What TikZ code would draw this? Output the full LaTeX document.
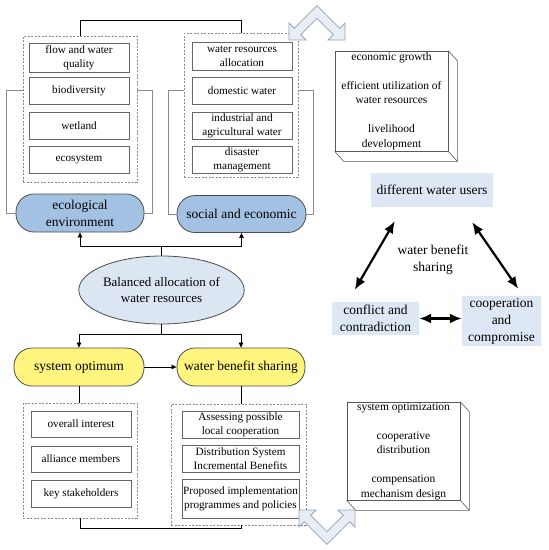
\documentclass[tikz,border=0pt]{standalone}
\usepackage{fontspec}
\setmainfont{Liberation Serif}
\usetikzlibrary{positioning, calc, arrows.meta, shapes.geometric}
\definecolor{PillBlue}{HTML}{A3C2E3}
\definecolor{PillYellow}{HTML}{FFF47D}
\definecolor{PaleBlue}{HTML}{DCE6F2}
\definecolor{UserBlue}{HTML}{DEE8F4}
\definecolor{LineGray}{HTML}{8C8C8C}
\definecolor{ChevFill}{HTML}{E6EDF5}
\definecolor{ChevEdge}{HTML}{9AA5B1}
\tikzset{
    itembox/.style={rectangle, draw=black!60, line width=0.7pt, align=center, inner sep=0.5pt, font=\fontsize{11.2}{14}\selectfont},
    groupbox/.style={rectangle, draw=black!45, dash pattern=on 2pt off 1.5pt, line width=0.6pt, inner sep=0pt},
    pill/.style={rectangle, rounded corners=18pt, draw=black!70, line width=0.8pt, align=center, inner sep=0pt, font=\fontsize{13.5}{17}\selectfont},
    userbox/.style={rectangle, fill=UserBlue, align=center, inner sep=0pt, font=\fontsize{13.5}{17}\selectfont},
    facebox/.style={rectangle, draw=black!65, line width=0.6pt, align=center, inner sep=0pt, font=\fontsize{11.5}{14.5}\selectfont},
    link/.style={black, line width=0.9pt},
    arrow/.style={-{Triangle[length=5pt,width=4.5pt]}, black, line width=0.7pt},
    bracket/.style={LineGray, line width=0.8pt},
    biarrow/.style={{Latex[length=12pt,width=10pt]}-{Latex[length=12pt,width=10pt]}, line width=2.2pt},
    chevron/.style={fill=ChevFill, draw=ChevEdge, line width=0.8pt, line join=miter},
}

\begin{document}
\begin{tikzpicture}[x=1pt, y=-1pt]
    \useasboundingbox (0,0) rectangle (549,550);

    % Gruppi in alto
    \node[groupbox, minimum width=114pt, minimum height=146pt] (ecoGrp) at (80,109) {};
    \node[groupbox, minimum width=114pt, minimum height=144pt] (socGrp) at (241,105) {};

    \node[itembox, minimum width=100pt, minimum height=29pt] (flow) at (79,57.5) {flow and water\\quality};
    \node[itembox, minimum width=100pt, minimum height=27pt] (bio) at (79,90.5) {biodiversity};
    \node[itembox, minimum width=100pt, minimum height=27pt] (wet) at (79,125.5) {wetland};
    \node[itembox, minimum width=100pt, minimum height=27pt] (eco) at (79,159.5) {ecosystem};

    \node[itembox, minimum width=100pt, minimum height=28pt] (alloc) at (242,56) {water resources\\allocation};
    \node[itembox, minimum width=100pt, minimum height=27pt] (dom) at (242,90.5) {domestic water};
    \node[itembox, minimum width=100pt, minimum height=27pt] (ind) at (242,125.5) {industrial and\\agricultural water};
    \node[itembox, minimum width=100pt, minimum height=27pt] (dis) at (242,159.5) {disaster\\management};

    % Pillole blu
    \node[pill, fill=PillBlue, minimum width=128pt, minimum height=38pt] (ecoEnv) at (80,213) {ecological\\environment};
    \node[pill, fill=PillBlue, minimum width=129pt, minimum height=37pt] (socEco) at (241.5,214) {social and economic};

    % Parentesi grigie
    \draw[bracket] (ecoGrp.west |- bio.center) -- ++(-16,0) |- (ecoEnv.west);
    \draw[bracket] (ecoGrp.east |- bio.center) -- ++(15,0) |- (ecoEnv.east);
    \draw[bracket] (socGrp.west |- dom.center) -- ++(-15,0) |- (socEco.west);
    \draw[bracket] (socGrp.east |- dom.center) -- ++(15,0) |- (socEco.east);

    \draw[link] (ecoGrp.north) -- ++(0,-15) -| (socGrp.north);

    % Nodo centrale
    \node[ellipse, draw=black!70, line width=0.8pt, fill=PaleBlue, minimum width=165pt, minimum height=68pt, align=center, inner sep=0pt, font=\fontsize{13}{16.5}\selectfont] (bal) at (161.5,290) {Balanced allocation of\\water resources};

    \coordinate (upJ) at (161.5,246);
    \coordinate (dnJ) at (161.5,334);
    \draw[link] (bal.north) -- (upJ);
    \draw[arrow] (upJ) -| (ecoEnv.south);
    \draw[arrow] (upJ) -| (socEco.south);

    % Pillole gialle
    \node[pill, fill=PillYellow, minimum width=130pt, minimum height=38pt] (opt) at (79,367) {system optimum};
    \node[pill, fill=PillYellow, minimum width=128pt, minimum height=38pt] (share) at (241,367) {water benefit sharing};

    \draw[link] (bal.south) -- (dnJ);
    \draw[arrow] (dnJ) -| (opt.north);
    \draw[arrow] (dnJ) -| (share.north);
    \draw[arrow] (opt) -- (share);

    % Gruppi in basso
    \node[groupbox, minimum width=114pt, minimum height=115pt] (optGrp) at (80,460.5) {};
    \node[groupbox, minimum width=135pt, minimum height=121pt] (shareGrp) at (238.5,464.5) {};

    \node[itembox, minimum width=100pt, minimum height=26pt] (overall) at (81,424) {overall interest};
    \node[itembox, minimum width=100pt, minimum height=26pt] (alliance) at (81,459) {alliance members};
    \node[itembox, minimum width=100pt, minimum height=27pt] (key) at (81,493.5) {key stakeholders};

    \node[itembox, minimum width=117pt, minimum height=27pt] (assess) at (240.5,424.5) {Assessing possible\\local cooperation};
    \node[itembox, minimum width=117pt, minimum height=27pt] (distr) at (240.5,458.5) {Distribution System\\Incremental Benefits};
    \node[itembox, minimum width=117pt, minimum height=39pt] (propose) at (240.5,498.5) {Proposed implementation\\programmes and policies};

    \draw[link] (opt.south) -- (opt.south |- optGrp.north);
    \draw[link] (share.south) -- (share.south |- shareGrp.north);
    \draw[link] (optGrp.south) -- ++(0,10) -| (share.south |- shareGrp.south);

    % Scatole 3D
    \node[facebox, minimum width=113pt, minimum height=100pt] (growthFace) at (391.5,101) {economic growth\\[14.5pt]efficient utilization of\\water resources\\[14.5pt]livelihood\\development};
    \draw[facebox] (growthFace.north east) -- ++(9,10) -- ($(growthFace.south east)+(9,10)$) -- ($(growthFace.south west)+(9,10)$) -- (growthFace.south west);
    \draw[facebox] (growthFace.south east) -- ++(9,10);

    \node[facebox, minimum width=113pt, minimum height=98pt] (optimFace) at (403.5,451) {system optimization\\[14.5pt]cooperative\\distribution\\[14.5pt]compensation\\mechanism design};
    \draw[facebox] (optimFace.north east) -- ++(9,10) -- ($(optimFace.south east)+(9,10)$) -- ($(optimFace.south west)+(9,10)$) -- (optimFace.south west);
    \draw[facebox] (optimFace.south east) -- ++(9,10);

    % Triangolo degli utenti
    \node[userbox, minimum width=122pt, minimum height=34pt] (users) at (432,190) {different water users};
    \node[userbox, minimum width=87pt, minimum height=33pt] (conflict) at (375.5,318.5) {conflict and\\contradiction};
    \node[userbox, minimum width=79pt, minimum height=50pt] (coop) at (501.5,321) {cooperation\\and\\compromise};
    \node[align=center, font=\fontsize{13.5}{17}\selectfont] (shareNote) at (433,259.5) {water benefit\\sharing};

    \draw[biarrow] ([shift={(24,14)}]users.south west) -- ([shift={(23,-12)}]conflict.north west);
    \draw[biarrow] ([shift={(-21,15)}]users.south east) -- ([shift={(-23,-7)}]coop.north east);
    \draw[biarrow] (conflict.east) -- (conflict.east -| coop.west);

    % Frecce cave piegate
    \begin{scope}[shift={(317,12)}]
        \draw[chevron] (0,-6.4) -- (-22.7,16.3) -- (-28,11) -- (-28,28) -- (-11,28) -- (-16.3,22.7) -- (0,6.4) -- (16.3,22.7) -- (11,28) -- (28,28) -- (28,11) -- (22.7,16.3) -- cycle;
    \end{scope}
    \begin{scope}[shift={(327,538)}, yscale=-1]
        \draw[chevron] (0,-6.4) -- (-22.7,16.3) -- (-28,11) -- (-28,28) -- (-11,28) -- (-16.3,22.7) -- (0,6.4) -- (16.3,22.7) -- (11,28) -- (28,28) -- (28,11) -- (22.7,16.3) -- cycle;
    \end{scope}
\end{tikzpicture}
\end{document}
